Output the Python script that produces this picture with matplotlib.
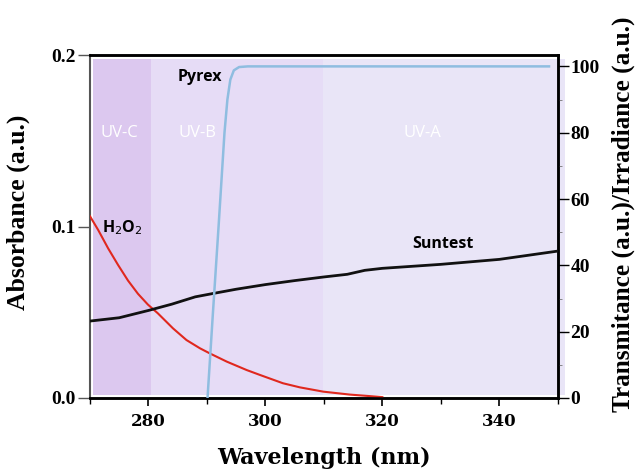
import matplotlib
matplotlib.use('Agg')
import matplotlib.pyplot as plt
from matplotlib.ticker import MultipleLocator

# ---------------------------------------------------------------------------
# Data
# ---------------------------------------------------------------------------

h2o2_wl  = [270, 271.4, 273.1, 274.8, 276.5, 278.2, 279.9, 281.6, 284.2, 286.5, 288.8,
            290.5, 293.4, 296.8, 299.1, 303.0, 305.9, 309.9, 314.4, 319.0, 320.0]
h2o2_abs = [0.106, 0.098, 0.0873, 0.0776, 0.0685, 0.0608, 0.0545, 0.0494, 0.0406, 0.0338,
            0.0290, 0.0260, 0.0212, 0.0163, 0.0134, 0.0086, 0.0062, 0.0037, 0.0020,
            0.0008, 0.0005]

suntest_wl  = [270, 275, 280, 284, 288, 291, 295, 300, 305, 310, 314, 317, 320, 330, 340, 350]
suntest_irr = [23.2, 24.2, 26.4, 28.3, 30.5, 31.5, 32.8, 34.2, 35.4, 36.5, 37.3, 38.5,
               39.1, 40.3, 41.8, 44.3]

pyrex_wl = [290.1, 291.0, 292.0, 293.0, 293.5, 294.0, 294.6, 295.5, 297.0, 348.5]
pyrex_tr = [0, 25, 52, 80, 90, 96, 98.8, 99.8, 100, 100]

bands       = ['UV-C', 'UV-B', 'UV-A']
band_limits = [(270.5, 280.5), (280.5, 309.8), (309.8, 351.2)]
band_colors = ['#dcc8ef', '#e6dcf6', '#e9e5f7']
band_text_x = [275.0, 288.3, 326.8]

serif_bold = dict(family='Liberation Serif', weight='bold')
sans_bold  = dict(family='Open Sans', weight='bold')

# ---------------------------------------------------------------------------
# Figure
# ---------------------------------------------------------------------------

fig = plt.figure(figsize=(6.36, 4.71), dpi=100)
ax = fig.add_axes([0.1415, 0.155, 0.7355, 0.728])
ax2 = ax.twinx()

for (lo, hi), col in zip(band_limits, band_colors):
    ax.axvspan(lo, hi, ymin=0.008, ymax=0.99, color=col, lw=0, zorder=0, clip_on=False)

ax.plot(h2o2_wl, h2o2_abs, color='#e0281e', lw=1.5, zorder=3)
ax2.plot(suntest_wl, suntest_irr, color='#111111', lw=2.0, zorder=3)
ax2.plot(pyrex_wl, pyrex_tr, color='#8fbde0', lw=1.8, zorder=3)

ax.set_xlim(270, 350)
ax.set_ylim(0, 0.2)
ax2.set_ylim(0, 103.4)

# ticks
ax.set_xticks([280, 300, 320, 340])
ax.xaxis.set_minor_locator(MultipleLocator(10))
ax.set_yticks([0.0, 0.1, 0.2])
ax.set_yticklabels(['0.0', '0.1', '0.2'])
ax2.set_yticks([0, 20, 40, 60, 80, 100])
ax2.yaxis.set_minor_locator(MultipleLocator(10))

ax.tick_params(axis='x', which='major', direction='out', length=6, width=1.2, pad=5)
ax.tick_params(axis='x', which='minor', direction='out', length=4, width=1.0)
ax.tick_params(axis='y', direction='out', length=9, width=1.0, color='#555555', pad=1)
ax2.tick_params(axis='y', which='major', direction='out', length=8, width=1.0, pad=1)
ax2.tick_params(axis='y', which='minor', direction='out', length=3, width=0.6, color='#777777')

for lab in ax.get_xticklabels():
    lab.set_fontfamily('DejaVu Serif')
    lab.set_fontweight('bold')
    lab.set_fontsize(12)
for lab in ax.get_yticklabels() + ax2.get_yticklabels():
    lab.set_fontfamily('Liberation Serif')
    lab.set_fontweight('bold')
    lab.set_fontsize(14)

# spines
for sp in ['top', 'bottom', 'right']:
    ax.spines[sp].set_linewidth(1.8)
    ax2.spines[sp].set_linewidth(1.8)
ax.spines['left'].set_color('#555555')
ax.spines['left'].set_linewidth(1.5)
ax2.spines['left'].set_visible(False)

# labels
ax.set_xlabel('Wavelength (nm)', family='DejaVu Serif', weight='bold', fontsize=16)
ax.xaxis.set_label_coords(0.5, -0.143)
ax.set_ylabel('Absorbance (a.u.)', fontsize=18.5, **serif_bold)
ax.yaxis.set_label_coords(-0.128, 0.542)
ax2.set_ylabel('Transmitance (a.u.)/Irradiance (a.u.)', fontsize=18.2, **serif_bold)
ax2.yaxis.set_label_coords(1.114, 0.536)

# annotations
for name, x in zip(bands, band_text_x):
    ax2.text(x, 80, name, color='white', fontsize=12, family='Open Sans',
             ha='center', va='center', zorder=4)
ax2.text(288.8, 96.7, 'Pyrex', fontsize=11.5, ha='center', va='center', zorder=4, **sans_bold)
ax2.text(272.0, 51.5, r'H$_2$O$_2$', fontsize=11.5, ha='left', va='center', zorder=4, **sans_bold)
ax2.text(330.3, 46.5, 'Suntest', fontsize=11.5, ha='center', va='center', zorder=4, **sans_bold)

fig.savefig('out.png', dpi=100)
